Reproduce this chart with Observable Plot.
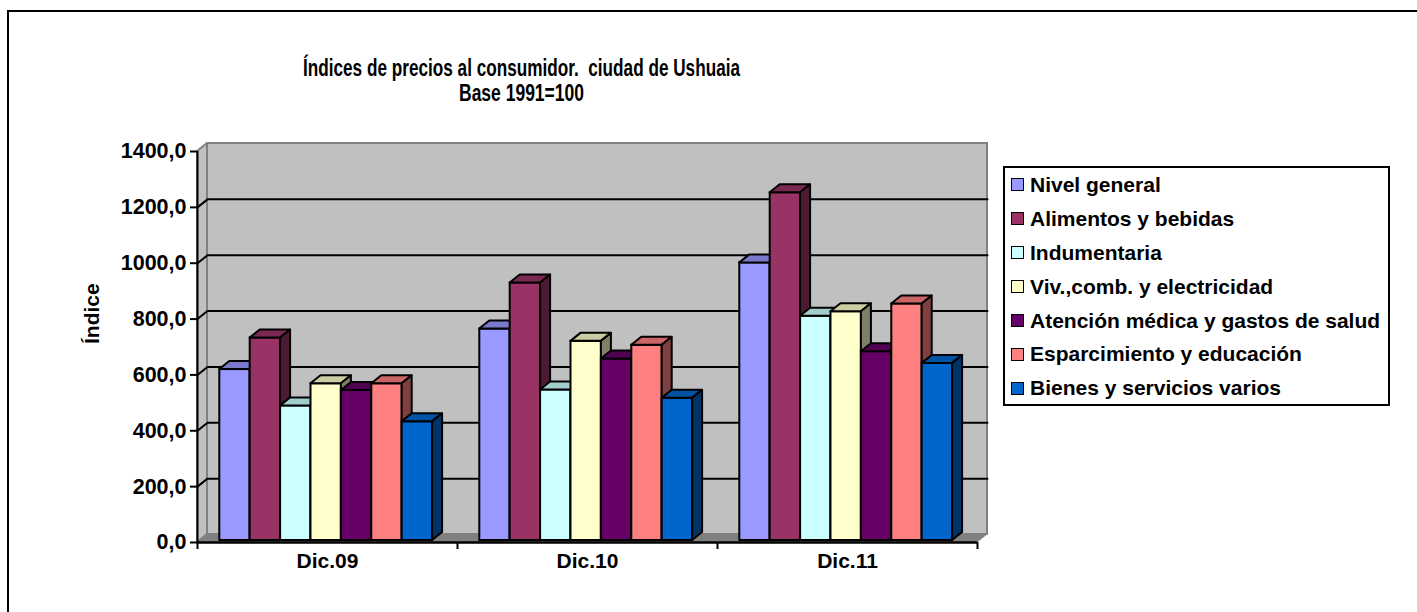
<!DOCTYPE html>
<html><head><meta charset="utf-8">
<script src="https://cdn.jsdelivr.net/npm/d3@7"></script>
<script src="https://cdn.jsdelivr.net/npm/@observablehq/plot@0.6"></script>
<style>
html,body{margin:0;padding:0;background:#fff;overflow:hidden;width:1417px;height:612px}
#wrap{position:relative;width:1417px;height:612px;overflow:hidden}
#border{position:absolute;left:7px;top:10px;width:2000px;height:2000px;border-left:2px solid #000;border-top:2px solid #000}
#chart{position:absolute;left:0;top:0}
#chart svg text{white-space:pre}
#legend{position:absolute;left:1003px;top:166px;width:387px;height:240px;border:2px solid #000;box-sizing:border-box;padding-left:6px;padding-top:0;background:#fff;font:bold 21px 'Liberation Sans',Arial,sans-serif;color:#000}
#legend .row{height:33.9px;display:flex;align-items:center;white-space:nowrap}
#legend .sw{width:11px;height:11px;border:1.5px solid #000;margin-right:6px;flex-shrink:0}
</style></head>
<body><div id="wrap"><div id="border"></div><div id="chart"></div><div id="legend"></div></div>
<script>
// ---- data ----
const categories = ["Dic.09", "Dic.10", "Dic.11"];
const series = ["Nivel general", "Alimentos y bebidas", "Indumentaria", "Viv.,comb. y electricidad",
  "Atención médica y gastos de salud", "Esparcimiento y educación", "Bienes y servicios varios"];
const nivelGeneral = [612, 757, 994];
const alimentosBebidas = [725, 922, 1245];
const indumentaria = [482, 539, 803];
const vivienda = [561, 713, 819];
const atencionMedica = [537, 650, 676];
const esparcimiento = [561, 699, 847];
const bienesServicios = [425, 509, 634];
const yTicks = [0, 200, 400, 600, 800, 1000, 1200, 1400];
const titleLine1 = "Índices de precios al consumidor.  ciudad de Ushuaia";
const titleLine2 = "Base 1991=100";
const yLabel = "Índice";

// ---- styles ----
const colors = ["#9999FF", "#993366", "#CCFFFF", "#FFFFCC", "#660066", "#FF8080", "#0066CC"];
const shade = (c, f) => { const r = d3.rgb(c); return d3.rgb(r.r * f, r.g * f, r.b * f).formatHex(); };

const seriesValues = [nivelGeneral, alimentosBebidas, indumentaria, vivienda, atencionMedica, esparcimiento, bienesServicios];

// ---- layout ----
const W = 1417, H = 612;
const mL = 197, mR = 440, mT = 151, mB = 70;
const yMax = 1400;
const pxX = (W - mL - mR) / categories.length; // px per category
const pxY = (H - mT - mB) / yMax;               // px per unit
const DX = 10 / pxX, DY = 8 / pxY;              // depth offsets in data units
const PAD = 22.3 / pxX, BW = 30.4 / pxX;
const nC = categories.length;

const backWall = [{x1: DX, x2: nC + DX, y1: DY, y2: yMax + DY}];
const leftWall = [{x: 0, y1: 0, y2: yMax}, {x: DX, y1: DY, y2: yMax + DY}];
const floor = [{y: 0, x1: 0, x2: nC}, {y: DY, x1: DX, x2: nC + DX}];
const grid = yTicks.filter(v => v > 0 && v < yMax).flatMap(v => [
  {v, x: 0, y: v}, {v, x: DX, y: v + DY}, {v, x: nC + DX, y: v + DY}]);

const marks = [
  Plot.rect(backWall, {x1: "x1", x2: "x2", y1: "y1", y2: "y2", fill: "#C0C0C0", stroke: "#808080", strokeWidth: 2}),
  Plot.areaY(leftWall, {x: "x", y1: "y1", y2: "y2", fill: "#C0C0C0", stroke: "#808080", strokeWidth: 2}),
  Plot.areaX(floor, {y: "y", x1: "x1", x2: "x2", fill: "#808080", stroke: "#808080", strokeWidth: 1}),
  Plot.line(grid, {x: "x", y: "y", z: "v", stroke: "#000", strokeWidth: 2})
];

series.forEach((s, k) => {
  const bars = categories.map((c, i) => ({cat: c, series: s, value: seriesValues[k][i], y0: 0,
    x1: i + PAD + k * BW, x2: i + PAD + (k + 1) * BW}));
  const tops = bars.flatMap((b, j) => [
    {id: j, y: b.value, x1: b.x1, x2: b.x2},
    {id: j, y: b.value + DY, x1: b.x1 + DX, x2: b.x2 + DX}]);
  const sides = bars.flatMap((b, j) => [
    {id: j, x: b.x2, y1: 0, y2: b.value},
    {id: j, x: b.x2 + DX, y1: DY, y2: b.value + DY}]);
  marks.push(
    Plot.rect(bars, {x1: "x1", x2: "x2", y1: "y0", y2: "value", fill: colors[k], stroke: "#000", strokeWidth: 2, dy: -2}),
    Plot.areaX(tops, {y: "y", x1: "x1", x2: "x2", z: "id", fill: shade(colors[k], 0.8), stroke: "#000", strokeWidth: 2, dy: -2}),
    Plot.areaY(sides, {x: "x", y1: "y1", y2: "y2", z: "id", fill: shade(colors[k], 0.5), stroke: "#000", strokeWidth: 2, dy: -2})
  );
});

const catRows = categories.map((c, i) => ({c, pos: i + 0.5}));
marks.push(
  Plot.ruleX([0], {stroke: "#000", strokeWidth: 2}),
  Plot.ruleY([0], {stroke: "#000", strokeWidth: 2.5}),
  Plot.axisY(yTicks, {tickFormat: d => d.toFixed(1).replace(".", ","), tickSize: 7, tickPadding: 4, strokeWidth: 2, label: null, fontSize: 21.5}),
  Plot.axisX(d3.range(nC + 1), {tickSize: 7, tickFormat: () => "", strokeWidth: 2, label: null}),
  Plot.text(catRows, {x: "pos", text: "c", frameAnchor: "bottom", dy: 25}),
  Plot.text([yLabel], {frameAnchor: "left", rotate: -90, dx: -105, dy: -3}),
  Plot.text([titleLine1], {frameAnchor: "top", dx: -66, dy: -92, fontSize: 23}),
  Plot.text([titleLine2], {frameAnchor: "top", dx: -66, dy: -67, fontSize: 23})
);

const chart = Plot.plot({
  width: W, height: H,
  marginLeft: mL, marginRight: mR, marginTop: mT, marginBottom: mB,
  x: {type: "linear", domain: [0, nC]},
  y: {type: "linear", domain: [0, yMax]},
  style: {fontFamily: "'Liberation Sans', Arial, sans-serif", fontSize: "21px", fontWeight: "bold", color: "#000", background: "transparent", overflow: "visible"},
  marks
});
document.getElementById("chart").append(chart);

// condensed title (narrow face emulation)
d3.select(chart).selectAll("text").each(function () {
  const t = this.textContent;
  if (t === titleLine1) d3.select(this).attr("textLength", 437).attr("lengthAdjust", "spacingAndGlyphs");
  if (t === titleLine2) d3.select(this).attr("textLength", 125).attr("lengthAdjust", "spacingAndGlyphs");
});

// legend
const lg = d3.select("#legend");
series.forEach((s, k) => {
  const row = lg.append("div").attr("class", "row");
  row.append("span").attr("class", "sw").style("background", colors[k]);
  row.append("span").text(s);
});
</script>
</body></html>
